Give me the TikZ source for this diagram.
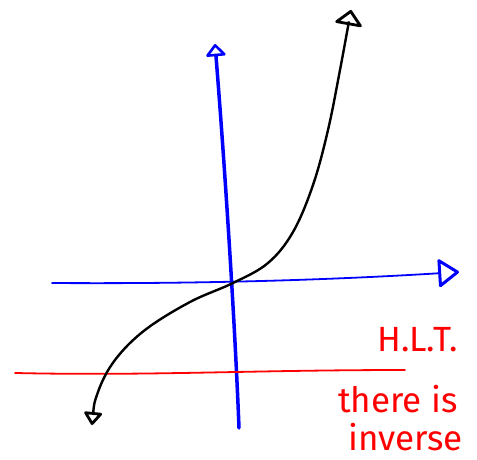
\documentclass[tikz,border=0pt]{standalone}
\usepackage{fontspec}
\setsansfont{Fira Sans}
\usetikzlibrary{arrows.meta}

\begin{document}
\begin{tikzpicture}[x=1pt, y=-1pt,
  axis/.style={blue, line cap=round},
  graph/.style={black, line width=2.4pt, line cap=round},
  hline/.style={red, line width=1.8pt, line cap=round},
  note/.style={red, font=\sffamily\fontsize{35}{40}\selectfont, inner sep=0pt, anchor=base west}
]
  \useasboundingbox (0,0) rectangle (477,460);

  % Axes
  \coordinate (ybot) at (239,428);
  \coordinate (ytop) at (215,44);
  \coordinate (xleft) at (52,283);
  \coordinate (xright) at (459,272);
  \draw[axis, line width=3.5pt, -{Triangle[open, round, length=13pt, width=22pt, line width=2.6pt]}]
    (ybot) .. controls (234,300) and (222,130) .. (ytop);
  \draw[axis, line width=1.8pt, -{Triangle[open, round, length=22pt, width=30pt, line width=3pt]}]
    (xleft) .. controls (200,284) and (330,280) .. (xright);

  % Horizontal line test
  \coordinate (hl) at (15,373);
  \coordinate (hr) at (405,370);
  \draw[hline] (hl) .. controls (150,376) and (250,370) .. (hr);

  % Function
  \draw[graph, {Triangle[open, round, length=14pt, width=20pt, line width=2.8pt]}-{Triangle[open, round, length=16pt, width=30pt, line width=2.8pt]}]
    plot[smooth, tension=0.6] coordinates {(92,425) (98,392) (115,360) (145,330) (190,302)
      (233,283) (268,263) (293,232) (313,185) (328,130) (340,70) (351,10)};

  % Labels
  \node[note] (lbl) at (377,351) {H.L.T.};
  \node[note] (ans1) at (338,412) {there is};
  \node[note] (ans2) at (348,450) {inverse};
\end{tikzpicture}
\end{document}
